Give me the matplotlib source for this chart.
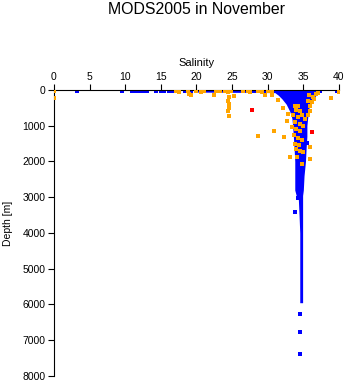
import numpy as np
import matplotlib
matplotlib.use("Agg")
import matplotlib.pyplot as plt

plt.rcParams['font.family'] = ['Liberation Sans', 'DejaVu Sans']

# envelope of the dense blue cloud (depth, min / max salinity)
blue_depth = [0, 60, 75, 150, 250, 400, 600, 800, 1000, 1300, 1600, 2000, 2400, 2800, 2950, 3050, 3500, 4000, 5000, 5950]
blue_smin = [20.0, 20.0, 31.0, 31.5, 32.0, 32.6, 33.1, 33.4, 33.5, 33.6, 33.7, 33.8, 33.8, 33.8, 34.0, 34.3, 34.4, 34.5, 34.5, 34.5]
blue_smax = [37.0, 37.0, 37.2, 36.8, 36.3, 35.9, 35.7, 35.6, 35.5, 35.5, 35.4, 35.3, 35.1, 35.0, 34.9, 34.9, 34.9, 34.9, 34.9, 34.9]

# isolated blue points
blue_s = [3.3, 9.5, 10.9, 11.2, 11.5, 12.1, 12.4, 12.8, 13.1, 14.3, 15.0, 15.4, 16.1, 16.6,
          17.0, 17.5, 18.4, 19.2, 37.3, 39.7, 35.5, 33.8, 34.3, 34.6, 34.6, 34.5]
blue_d = [30, 30, 30, 30, 30, 30, 30, 30, 30, 30, 30, 30, 30, 30,
          30, 30, 30, 30, 30, 30, 1480, 3400, 3020, 6270, 6770, 7380]

orange_s = [0.0, 0.0, 17.2, 17.6, 18.8, 19.0, 19.3, 20.0, 20.6, 21.1, 22.5, 22.8, 23.3, 24.0,
            24.4, 24.8, 25.3, 26.5, 27.2, 27.5, 28.6, 29.2, 29.6, 30.0, 30.6, 30.6, 31.4,
            24.5, 24.4, 24.6, 24.5, 24.4, 24.5,
            32.1, 32.9, 32.7, 33.4, 30.9, 32.3, 28.6, 35.9, 34.9, 33.1, 34.1, 34.8, 35.9, 38.9, 40.0,
            33.8, 34.3, 34.0, 34.5, 33.6, 34.2, 34.8, 35.2, 33.9, 34.5, 35.0, 34.0, 34.6, 33.7,
            34.2, 34.8, 33.9, 34.4, 34.0, 34.6,
            35.8, 36.3, 36.8, 35.6, 36.2, 35.9, 36.5, 36.0, 35.7, 37.0]
orange_d = [30, 215, 40, 60, 40, 100, 130, 40, 60, 40, 140, 40, 40, 40,
            60, 40, 170, 40, 40, 60, 40, 60, 140, 40, 60, 140, 280,
            200, 300, 400, 500, 600, 730,
            510, 680, 860, 1030, 1150, 1310, 1290, 1600, 1730, 1880, 1880, 2070, 1930, 220, 55,
            450, 450, 550, 600, 700, 750, 700, 800, 900, 950, 1000, 1100, 1150, 1250,
            1350, 1400, 1500, 1550, 1650, 1700,
            150, 200, 100, 300, 350, 450, 250, 600, 700, 80]

red_s = [27.8, 36.2]
red_d = [560, 1175]

fig = plt.figure(figsize=(3.48, 3.84), dpi=100)
ax = fig.add_axes([0.155, 0.0208, 0.819, 0.745])

ax.fill_betweenx(blue_depth, blue_smin, blue_smax, color='blue', lw=0)
ax.scatter(blue_s, blue_d, s=5, marker='s', color='blue', lw=0)
ax.scatter(orange_s, orange_d, s=5, marker='s', color='orange', lw=0, zorder=3)
ax.scatter(red_s, red_d, s=5, marker='s', color='red', lw=0, zorder=4)

ax.set_xlim(0, 40)
ax.set_ylim(8000, 0)
ax.set_xticks(np.arange(0, 41, 5))
ax.set_yticks(np.arange(0, 8001, 1000))
ax.xaxis.tick_top()
ax.xaxis.set_label_position('top')
ax.spines['right'].set_visible(False)
ax.spines['bottom'].set_visible(False)
ax.tick_params(labelsize=7.5, length=4, width=0.8, pad=2)
ax.set_xlabel("Salinity", fontsize=8, labelpad=4)
ax.set_ylabel("Depth [m]", fontsize=7.5)
ax.yaxis.set_label_coords(-0.145, 0.535)
fig.text(0.5645, 0.995, "MODS2005 in November", fontsize=11.4, ha='center', va='top')

fig.savefig("out.png", dpi=100)
